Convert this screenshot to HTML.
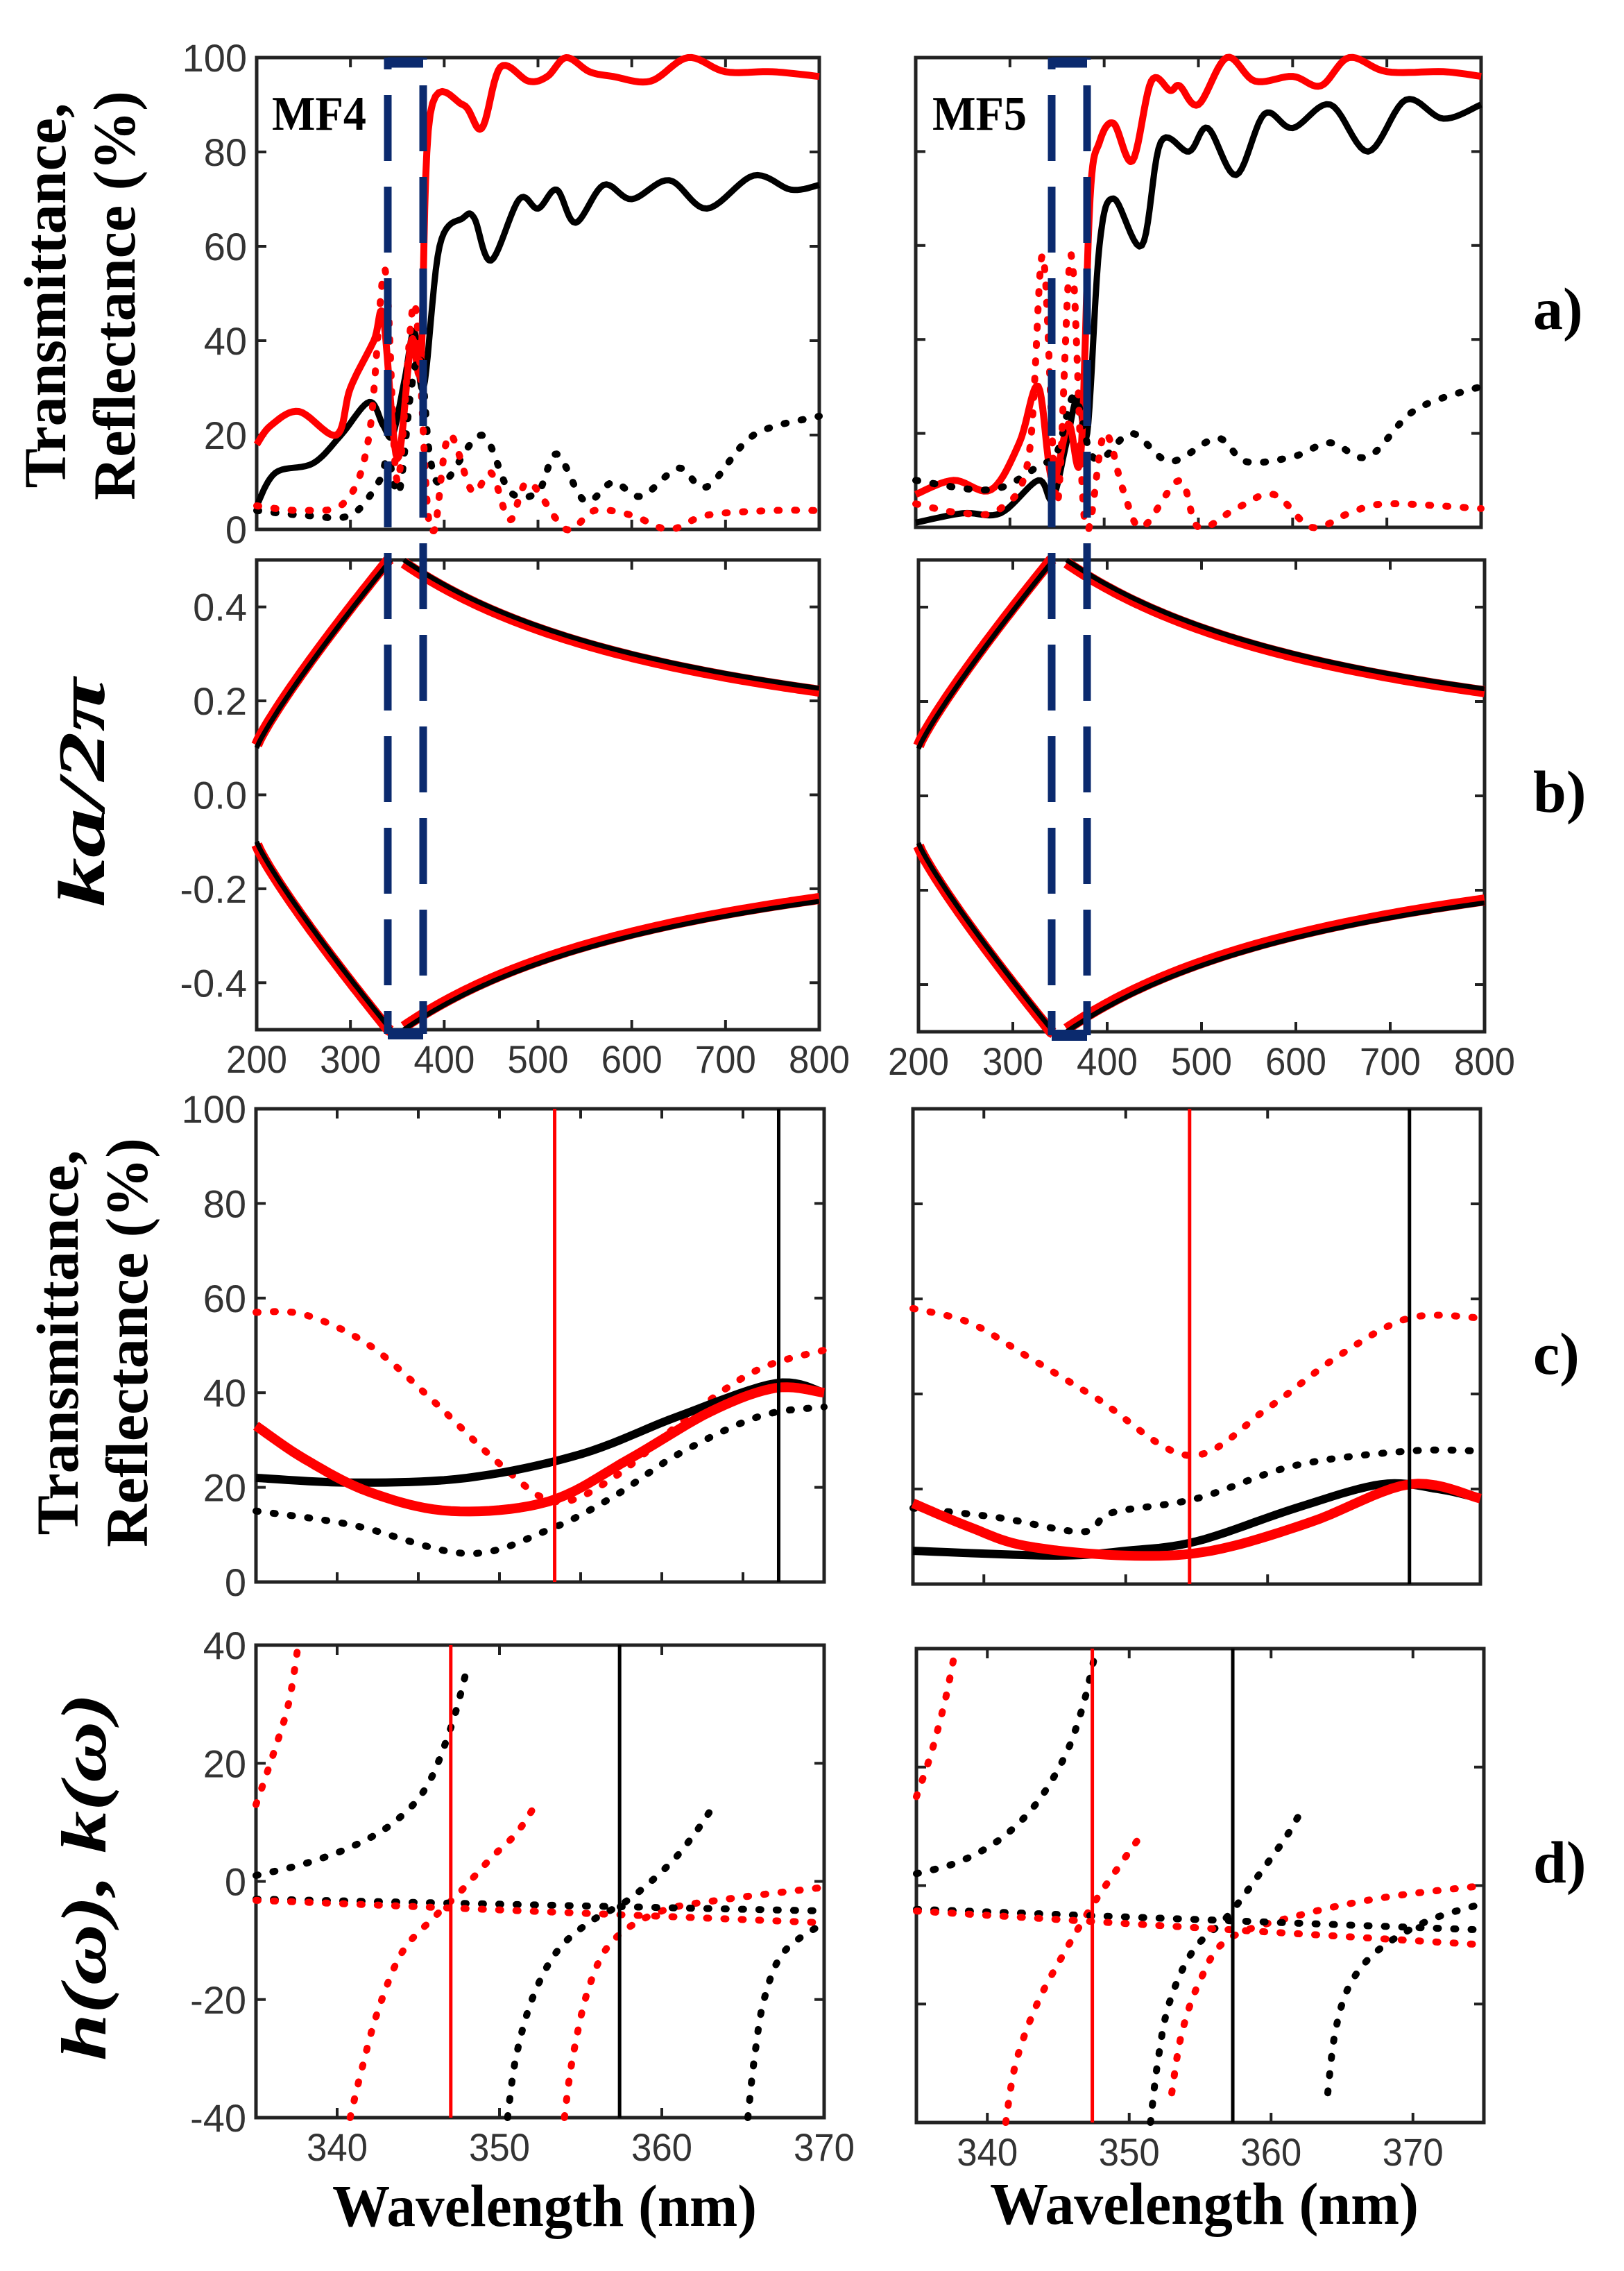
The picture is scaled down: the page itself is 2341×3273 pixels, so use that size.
<!DOCTYPE html>
<html><head><meta charset="utf-8">
<style>
html,body{margin:0;padding:0;background:#fff;}
svg{display:block;}
.tk{font-family:"Liberation Sans",sans-serif;font-size:56px;fill:#333;}
.lb{font-family:"Liberation Serif",serif;font-weight:bold;fill:#000;}
</style></head>
<body>
<svg id="s" xmlns="http://www.w3.org/2000/svg" width="2341" height="3273" viewBox="0 0 2341 3273">
<rect width="2341" height="3273" fill="#fff"/>
<g id="g"></g>
<text class="lb" font-size="86" transform="translate(94,426) rotate(-90)" text-anchor="middle">Transmittance,</text>
<text class="lb" font-size="86" transform="translate(194,426) rotate(-90)" text-anchor="middle">Reflectance (%)</text>
<text class="lb" font-size="86" transform="translate(112,1935) rotate(-90)" text-anchor="middle">Transmittance,</text>
<text class="lb" font-size="86" transform="translate(212,1935) rotate(-90)" text-anchor="middle">Reflectance (%)</text>
<text class="lb" font-size="96" font-style="italic" transform="translate(150,1142) rotate(-90)" text-anchor="middle" textLength="330" lengthAdjust="spacingAndGlyphs">ka/2π</text>
<text class="lb" font-size="92" font-style="italic" transform="translate(152,2705) rotate(-90)" text-anchor="middle" textLength="530" lengthAdjust="spacingAndGlyphs">h(ω), k(ω)</text>
<text class="lb" font-size="86" x="2210" y="474">a)</text>
<text class="lb" font-size="86" x="2210" y="1170">b)</text>
<text class="lb" font-size="86" x="2210" y="1980">c)</text>
<text class="lb" font-size="86" x="2210" y="2713">d)</text>
<text class="lb" font-size="70" x="392" y="187" textLength="136" lengthAdjust="spacingAndGlyphs">MF4</text>
<text class="lb" font-size="70" x="1344" y="187" textLength="136" lengthAdjust="spacingAndGlyphs">MF5</text>
<text class="lb" font-size="86" x="785" y="3208" text-anchor="middle" textLength="612" lengthAdjust="spacingAndGlyphs">Wavelength (nm)</text>
<text class="lb" font-size="86" x="1736" y="3205" text-anchor="middle" textLength="618" lengthAdjust="spacingAndGlyphs">Wavelength (nm)</text>
</svg>
<script>
var NS="http://www.w3.org/2000/svg",G=document.getElementById("g");
function el(t,a,txt){var e=document.createElementNS(NS,t);for(var k in a)e.setAttribute(k,a[k]);if(txt!=null)e.textContent=txt;G.appendChild(e);return e;}
var P={
aL:{x0:370,x1:1181,y0:83,y1:763,a:200,b:800,c:0,d:100},
aR:{x0:1320,x1:2135,y0:83,y1:760,a:200,b:800,c:0,d:100},
bL:{x0:370,x1:1181,y0:807,y1:1484,a:200,b:800,c:-0.5,d:0.5},
bR:{x0:1324,x1:2140,y0:807,y1:1487,a:200,b:800,c:-0.5,d:0.5},
cL:{x0:369,x1:1188,y0:1598,y1:2280,a:335,b:370,c:0,d:100},
cR:{x0:1316,x1:2134,y0:1598,y1:2283,a:335,b:375,c:0,d:100},
dL:{x0:369,x1:1188,y0:2371,y1:3052,a:335,b:370,c:-40,d:40},
dR:{x0:1321,x1:2139,y0:2376,y1:3059,a:335,b:375,c:-40,d:40}};
function X(p,v){return p.x0+(v-p.a)/(p.b-p.a)*(p.x1-p.x0);}
function Y(p,v){return p.y1-(v-p.c)/(p.d-p.c)*(p.y1-p.y0);}
function cr(pts){var out=[];for(var i=0;i<pts.length-1;i++){var p0=pts[Math.max(0,i-1)],p1=pts[i],p2=pts[i+1],p3=pts[Math.min(pts.length-1,i+2)];
for(var t=0;t<1;t+=0.1){var t2=t*t,t3=t2*t;
var x=0.5*((2*p1[0])+(-p0[0]+p2[0])*t+(2*p0[0]-5*p1[0]+4*p2[0]-p3[0])*t2+(-p0[0]+3*p1[0]-3*p2[0]+p3[0])*t3);
var y=0.5*((2*p1[1])+(-p0[1]+p2[1])*t+(2*p0[1]-5*p1[1]+4*p2[1]-p3[1])*t2+(-p0[1]+3*p1[1]-3*p2[1]+p3[1])*t3);out.push([x,y]);}}
out.push(pts[pts.length-1]);return out;}
function line(p,data,col,w,dot,smooth){var pts=data.map(function(d){return [d[0],d[1]];});if(smooth!==false)pts=cr(pts);
var s=pts.map(function(q,i){var y=Math.max(p.y0-2,Math.min(p.y1+2,Y(p,q[1])));return (i?"L":"M")+X(p,q[0]).toFixed(1)+" "+y.toFixed(1);}).join("");
var a={d:s,fill:"none",stroke:col,"stroke-width":w,"stroke-linejoin":"round"};
if(dot){a["stroke-dasharray"]="3 22";a["stroke-linecap"]="round";}
el("path",a);}
function fn(f,a,b,n){var r=[];for(var i=0;i<=n;i++){var x=a+(b-a)*i/n;r.push([x,f(x)]);}return r;}
function frame(p,xt,yt,xl,yl,yfmt){
el("rect",{x:p.x0,y:p.y0,width:p.x1-p.x0,height:p.y1-p.y0,fill:"none",stroke:"#222","stroke-width":5});
xt.forEach(function(v){var x=X(p,v);el("line",{x1:x,x2:x,y1:p.y1,y2:p.y1-14,stroke:"#222","stroke-width":4});el("line",{x1:x,x2:x,y1:p.y0,y2:p.y0+14,stroke:"#222","stroke-width":4});
if(xl)el("text",{class:"tk",x:x,y:p.y1+62,"text-anchor":"middle",textLength:88,lengthAdjust:"spacingAndGlyphs"},String(v));});
yt.forEach(function(v){var y=Y(p,v);el("line",{x1:p.x0,x2:p.x0+14,y1:y,y2:y,stroke:"#222","stroke-width":4});el("line",{x1:p.x1,x2:p.x1-14,y1:y,y2:y,stroke:"#222","stroke-width":4});
if(yl)el("text",{class:"tk",x:p.x0-14,y:y+20,"text-anchor":"end"},yfmt?yfmt(v):String(v));});}
frame(P.aL,[300,400,500,600,700],[0,20,40,60,80,100],false,true);
frame(P.aR,[300,400,500,600,700],[20,40,60,80],false,false);
var bf=function(v){return v.toFixed(1);};
frame(P.bL,[200,300,400,500,600,700,800],[-0.4,-0.2,0,0.2,0.4],true,true,bf);
frame(P.bR,[200,300,400,500,600,700,800],[-0.4,-0.2,0,0.2,0.4],true,false);
frame(P.cL,[340,345,350,355,360,365],[0,20,40,60,80,100],false,true);
frame(P.cR,[340,350,360,370],[20,40,60,80],false,false);
frame(P.dL,[340,350,360,370],[-40,-20,0,20,40],true,true);
frame(P.dR,[340,350,360,370],[-40,-20,0,20],true,false);
var R="#ff0000",K="#000";
line(P.aL,[[200,5],[220,12],[260,14],[290,20],[320,27],[335,22],[345,20],[358,32],[368,42],[378,30],[395,60],[420,66],[432,66],[450,57],[480,70],[500,68],[520,72],[540,65],[570,73],[600,70],[640,74],[680,68],[730,75],[770,72],[800,73]],K,9,false);
line(P.aL,[[200,18],[215,22],[245,25],[285,20],[300,30],[325,40],[335,45],[350,15],[365,40],[375,35],[385,88],[420,90],[440,85],[460,98],[490,95],[510,96],[530,100],[555,97],[580,96],[620,95],[660,100],[700,97],[750,97],[800,96]],R,10,false);
line(P.aL,[[200,4],[250,3],[300,3],[330,10],[340,15],[352,8],[365,30],[375,36],[385,15],[400,10],[440,20],[470,8],[500,8],[520,16],[550,6],[580,10],[610,7],[650,13],[680,9],[730,20],[800,24]],K,10,true);
line(P.aL,[[200,5],[250,4],[295,6],[320,20],[337,55],[350,10],[368,48],[382,5],[390,0],[405,20],[430,8],[450,12],[470,2],[490,10],[530,0],[560,4],[600,3],[640,0],[680,3],[750,4],[800,4]],R,10,true);
line(P.aR,[[200,1],[250,3],[290,3],[330,10],[345,6],[360,18],[372,28],[382,20],[395,60],[410,70],[440,60],[460,82],[490,80],[510,85],[540,75],[570,88],[600,85],[640,90],[680,80],[720,91],[760,87],[800,90]],K,9,false);
line(P.aR,[[200,7],[240,10],[280,8],[310,18],[330,30],[345,10],[362,22],[375,15],[385,70],[395,82],[410,86],[430,78],[450,95],[470,93],[480,94],[500,90],[530,100],[560,95],[600,96],[630,94],[660,100],[700,97],[760,97],[800,96]],R,10,false);
line(P.aR,[[200,10],[280,8],[330,13],[350,16],[368,28],[385,16],[400,15],[430,20],[470,14],[520,19],[550,14],[600,15],[640,18],[680,15],[730,25],[800,30]],K,10,true);
line(P.aR,[[200,5],[250,3],[290,4],[320,15],[335,58],[350,5],[365,58],[380,0],[400,20],[420,8],[440,0],[480,10],[500,0],[540,4],[580,7],[620,0],[660,3],[700,5],[800,4]],R,10,true);
function up(l,sh){return l<=343? 0.1+0.4*Math.pow((l-200)/143,0.88)+sh : 0.5*Math.pow(357/l,0.98)-sh;}
[["bL"],["bR"]].forEach(function(k){var p=P[k[0]];
line(p,fn(function(l){return up(l,0.006);},200,343,60),R,16,false,false);
line(p,fn(function(l){return up(l,0);},200,343,60),K,7,false,false);
line(p,fn(function(l){return up(l,0.006);},357,800,120),R,16,false,false);
line(p,fn(function(l){return up(l,0);},357,800,120),K,7,false,false);
line(p,fn(function(l){return -up(l,0.006);},200,343,60),R,16,false,false);
line(p,fn(function(l){return -up(l,0);},200,343,60),K,7,false,false);
line(p,fn(function(l){return -up(l,0.006);},357,800,120),R,16,false,false);
line(p,fn(function(l){return -up(l,0);},357,800,120),K,7,false,false);});
line(P.cL,[[335,57],[338,56.5],[342,50],[346,38],[350,25],[353.4,17],[357,22],[362,36],[366,45],[370,49]],R,10,true);
line(P.cL,[[335,15],[341,12],[348,6],[353,11],[357,18],[361,27],[366,35],[370,37]],K,10,true);
line(P.cL,[[335,22],[341,21],[348,22],[355,27],[361,35],[367,42],[370,40]],K,12);
line(P.cL,[[335,33],[338,26],[342,19],[347,15],[353,17],[358,26],[363,36],[367,41],[370,40]],R,14);
line(P.cR,[[335,58],[339,55],[343,48],[348,39],[354.5,27],[360,37],[365,48],[370,56],[375,56]],R,10,true);
line(P.cR,[[335,16],[341,14],[347,11],[349,15],[355,18],[362,25],[370,28],[375,28]],K,10,true);
line(P.cR,[[335,7],[345,6],[350,7],[355,9],[362,16],[368,21],[372,20],[375,18]],K,12);
line(P.cR,[[335,17],[339,12],[343,8],[350,6],[356,7],[363,13],[370,21],[375,18]],R,14);
function vline(p,v,col,w){var x=X(p,v);el("line",{x1:x,x2:x,y1:p.y0,y2:p.y1,stroke:col,"stroke-width":w});}
vline(P.cL,353.4,R,5);vline(P.cL,367.2,K,5);
vline(P.cR,354.5,R,5);vline(P.cR,370,K,5);
var dl=P.dL;
line(dl,[[335,13],[336,21],[337,30],[337.6,40]],R,10,true);
line(dl,[[335,1],[338,3],[341,6],[343.5,10],[345.5,16],[347,26],[348,36]],K,10,true);
line(dl,[[340.8,-40],[341.5,-32],[342.5,-22],[344,-12],[346,-6],[347.5,-2],[349.5,4],[351,8],[352,12]],R,10,true);
line(dl,[[350.5,-40],[351,-30],[352,-20],[353.5,-12],[355.5,-7],[358,-3],[360.5,3],[362,8],[363,12]],K,10,true);
line(dl,[[354,-40],[354.5,-30],[355.5,-18],[357,-10],[360,-5],[364,-3],[370,-1]],R,10,true);
line(dl,[[365.3,-40],[365.7,-30],[366.3,-20],[367.5,-12],[370,-7]],K,10,true);
line(dl,[[335,-3],[370,-5]],K,10,true,false);
line(dl,[[335,-3.2],[370,-7]],R,10,true,false);
vline(dl,347,R,5);vline(dl,357.4,K,5);
var dr=P.dR;
line(dr,[[335,15],[336,22],[337,31],[337.6,38]],R,10,true);
line(dr,[[335,2],[338,4],[341,8],[343.5,14],[345.5,22],[346.7,30],[347.5,38]],K,10,true);
line(dr,[[341.3,-40],[342,-30],[343.5,-20],[345.5,-11],[347.5,-3],[349.5,4],[351,9]],R,10,true);
line(dr,[[351.5,-40],[352,-30],[352.8,-20],[354.5,-11],[357,-5],[359.5,3],[361,8],[362,12]],K,10,true);
line(dr,[[353,-35],[353.7,-25],[355,-16],[357,-9],[362,-5],[368,-2],[375,0]],R,10,true);
line(dr,[[364,-35],[364.5,-25],[365.5,-17],[367.5,-11],[371,-6],[375,-3]],K,10,true);
line(dr,[[335,-4],[375,-7.5]],K,10,true,false);
line(dr,[[335,-4.3],[375,-10]],R,10,true,false);
vline(dr,347.4,R,5);vline(dr,357.3,K,5);
var B="#0b2a6e";
function blue(xa,xb,top,bot){
el("line",{x1:xa,x2:xb,y1:top+7,y2:top+7,stroke:B,"stroke-width":15});
el("line",{x1:xa,x2:xb,y1:bot,y2:bot,stroke:B,"stroke-width":16});
el("line",{x1:xa,x2:xa,y1:top,y2:bot,stroke:B,"stroke-width":11,"stroke-dasharray":"95 37","stroke-dashoffset":"-54"});
el("line",{x1:xb,x2:xb,y1:top,y2:bot,stroke:B,"stroke-width":11,"stroke-dasharray":"95 37","stroke-dashoffset":"-40"});}
blue(559,610,83,1490);
blue(1516,1567,83,1492);
</script>
</body></html>
